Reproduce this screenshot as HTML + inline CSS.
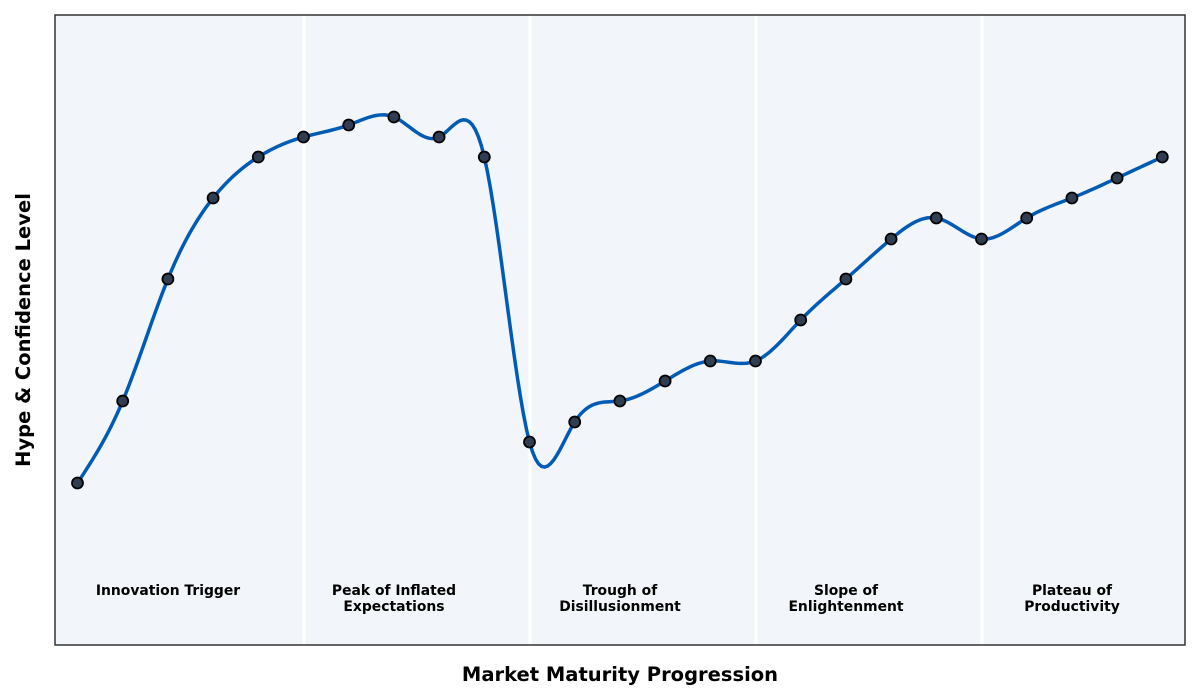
<!DOCTYPE html>
<html><head><meta charset="utf-8"><style>
body{margin:0;background:#fff;width:1200px;height:700px;overflow:hidden}
svg{display:block;font-family:"DejaVu Sans","Liberation Sans",sans-serif}
</style></head><body>
<svg id="s" width="1200" height="700" xmlns="http://www.w3.org/2000/svg">
<rect x="55" y="15" width="1130" height="630" fill="#f2f6fa"/>
<g stroke="#ffffff" stroke-width="3">
<line x1="304" y1="15" x2="304" y2="645"/><line x1="530" y1="15" x2="530" y2="645"/>
<line x1="756" y1="15" x2="756" y2="645"/><line x1="982" y1="15" x2="982" y2="645"/>
</g>
<path id="curve" fill="none" stroke="#005bb5" stroke-width="3.5" d=""/>
<g id="pts"></g>
<rect x="55" y="15" width="1130" height="630" fill="none" stroke="#333" stroke-width="1.5"/>
<g font-size="13.9" font-weight="bold" text-anchor="middle" fill="#000">
<text x="168" y="595">Innovation Trigger</text>
<text x="394" y="595">Peak of Inflated</text><text x="394" y="611">Expectations</text>
<text x="620" y="595">Trough of</text><text x="620" y="611">Disillusionment</text>
<text x="846" y="595">Slope of</text><text x="846" y="611">Enlightenment</text>
<text x="1072" y="595">Plateau of</text><text x="1072" y="611">Productivity</text>
</g>
<text x="620" y="681" font-size="19.5" font-weight="bold" text-anchor="middle">Market Maturity Progression</text>
<text transform="translate(30,330) rotate(-90)" font-size="19.5" font-weight="bold" text-anchor="middle">Hype &amp; Confidence Level</text>
</svg>
<script>
var ys=[483,401,279,198,157,137,125,117,137,157,442,422,401,381,361,361,320,279,239,218,239,218,198,178,157];
var n=ys.length,xs=[];for(var i=0;i<n;i++)xs.push(77.5+i*45.2);
var a=ys.slice(),h=45.2,al=[],l=[1],mu=[0],z=[0],c=new Array(n).fill(0),b=[],d=[];
for(i=1;i<n-1;i++)al[i]=3/h*(a[i+1]-a[i])-3/h*(a[i]-a[i-1]);
for(i=1;i<n-1;i++){l[i]=4*h-h*mu[i-1];mu[i]=h/l[i];z[i]=(al[i]-h*z[i-1])/l[i];}
for(i=n-2;i>=0;i--){if(i>0)c[i]=z[i]-mu[i]*c[i+1];b[i]=(a[i+1]-a[i])/h-h*(c[i+1]+2*c[i])/3;d[i]=(c[i+1]-c[i])/(3*h);}
var p="M"+xs[0]+","+a[0];
for(i=0;i<n-1;i++){for(var k=1;k<=15;k++){var t=h*k/15;p+=" L"+(xs[i]+t).toFixed(2)+","+(a[i]+b[i]*t+c[i]*t*t+d[i]*t*t*t).toFixed(2);}}
document.getElementById("curve").setAttribute("d",p);
var g="";for(i=0;i<n;i++)g+='<circle cx="'+xs[i]+'" cy="'+ys[i]+'" r="5.5" fill="#2f3e50" stroke="#000" stroke-width="1.8"/>';
document.getElementById("pts").innerHTML=g;
</script>
</body></html>
